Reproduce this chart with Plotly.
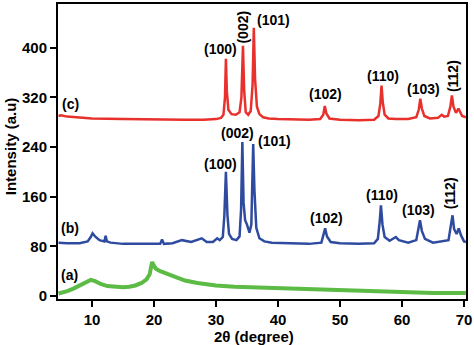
import plotly.graph_objects as go

# XRD patterns: 2-theta (degree) vs intensity (a.u.), offset stacked
two_theta_a = [4.6, 5, 6, 7, 8, 9, 9.8, 10.5, 11.5, 12.5, 14, 15, 16, 17, 18, 18.8, 19.3, 19.7,
               19.9, 20.3, 21, 22, 23, 24, 25, 27, 30, 33, 36, 40, 45, 50, 55, 60, 65, 70.3]
intensity_a = [4, 5, 8, 12, 17, 22, 26, 24, 19, 16, 14, 14, 15, 17, 21, 27, 35, 55,
               50, 44, 40, 36, 32, 28, 25, 21, 17, 15, 14, 13, 11, 9, 7, 6, 5, 5]

two_theta_b = [4.6, 6, 8, 9.3, 9.8, 10.1, 10.5, 11.2, 12, 12.2, 12.4, 13, 15, 18, 21, 21.3, 21.6,
               23, 24.5, 26, 27.7, 28.5, 29.5, 30.2, 30.6, 31.1, 31.35, 31.6, 31.85, 32.1, 32.6,
               33.3, 33.8, 34.05, 34.25, 34.45, 34.7, 35.0, 35.4, 35.7, 35.85, 36.0, 36.2, 36.5,
               37, 37.8, 39, 42, 45, 47, 47.4, 47.6, 47.9, 48.5, 50, 53, 55.5, 56.1, 56.4, 56.6,
               56.85, 57.2, 58, 59, 59.5, 61, 62.3, 62.7, 62.9, 63.2, 63.7, 65, 66.5, 67.5, 67.9,
               68.15, 68.4, 68.8, 69.15, 69.5, 70, 70.3]
intensity_b = [86, 85, 85, 88, 95, 101, 96, 90, 88, 97, 88, 86, 84, 84, 84, 91, 84,
               85, 90, 87, 93, 87, 87, 93, 90, 95, 130, 200, 130, 100, 92,
               90, 96, 140, 248, 150, 122, 115, 102, 115, 170, 245, 170, 110,
               93, 88, 86, 85, 84, 86, 100, 109, 96, 87, 85, 84, 85, 92, 120, 146,
               115, 95, 89, 95, 90, 86, 90, 110, 122, 105, 92, 86, 88, 90, 115,
               130, 108, 100, 109, 98, 88, 87]

two_theta_c = [4.6, 5, 6, 7, 8, 10, 15, 20, 25, 28, 30, 30.8, 31.2, 31.45, 31.6, 31.75, 32.0,
               32.5, 33.2, 33.8, 34.1, 34.35, 34.55, 34.8, 35.2, 35.6, 35.9, 36.1, 36.3, 36.6,
               37.0, 37.6, 38.5, 40, 45, 46.8, 47.3, 47.55, 47.8, 48.3, 50, 53, 55.5, 56.2, 56.5,
               56.7, 56.9, 57.2, 57.8, 59, 61, 62.3, 62.7, 62.95, 63.2, 63.6, 64.5, 65.8, 66.4,
               66.8, 67.4, 67.8, 68.05, 68.3, 68.7, 69.1, 69.4, 69.7, 70.3]
intensity_c = [290, 291, 289, 288, 287, 286, 285, 284, 284, 284, 285, 287, 292, 320, 382, 330, 300,
               293, 292, 296, 320, 403, 330, 296, 292, 298, 340, 432, 350, 305,
               293, 288, 286, 285, 284, 285, 292, 306, 294, 286, 284, 283, 284, 290, 310,
               339, 312, 292, 286, 285, 285, 288, 300, 318, 302, 290, 286, 287, 292,
               289, 290, 305, 323, 305, 295, 302, 296, 290, 288]

series_tags = ["(a)", "(b)", "(c)"]
series_colors = ["#5cbb45", "#2f4ba0", "#e8302c"]

# Miller-index labels: (text, 2theta, intensity, rotated)
hkl_c = [("(100)", 30.8, 398, False), ("(002)", 34.35, 434, True), ("(101)", 39.35, 445, False),
         ("(102)", 47.7, 325, False), ("(110)", 56.9, 355, False), ("(103)", 63.5, 334, False),
         ("(112)", 68.2, 354, True)]
hkl_b = [("(100)", 30.8, 213, False), ("(002)", 33.5, 262, False), ("(101)", 39.5, 250, False),
         ("(102)", 47.9, 125, False), ("(110)", 56.8, 162, False), ("(103)", 62.7, 139, False),
         ("(112)", 67.7, 165, True)]
tag_pos = [(6.45, 34), (6.45, 109), (6.6, 309)]

y_ticks = [0, 80, 160, 240, 320, 400]
x_ticks = [10, 20, 30, 40, 50, 60, 70]

font_family = "Liberation Sans, Arial, sans-serif"

fig = go.Figure()
for xs, ys, col, w in [(two_theta_a, intensity_a, series_colors[0], 4),
                       (two_theta_b, intensity_b, series_colors[1], 2.5),
                       (two_theta_c, intensity_c, series_colors[2], 2.5)]:
    fig.add_trace(go.Scatter(x=xs, y=ys, mode="lines",
                             line=dict(color=col, width=w), showlegend=False,
                             hoverinfo="skip"))

annotations = []
for tag, (tx, ty) in zip(series_tags, tag_pos):
    annotations.append(dict(x=tx, y=ty, text="<b>%s</b>" % tag, showarrow=False,
                            font=dict(size=14, color="black", family=font_family)))
for txt, tx, ty, rot in hkl_c + hkl_b:
    annotations.append(dict(x=tx, y=ty, text="<b>%s</b>" % txt, showarrow=False,
                            textangle=-90 if rot else 0,
                            font=dict(size=14, color="black", family=font_family)))

# axis titles
annotations.append(dict(xref="paper", yref="paper", x=-0.1176, y=0.518,
                        xanchor="center", yanchor="middle",
                        text="<b>Intensity (a.u)</b>", showarrow=False, textangle=-90,
                        font=dict(size=15, color="black", family=font_family)))
annotations.append(dict(xref="paper", yref="paper", x=0.48, y=-0.128,
                        xanchor="center", yanchor="middle",
                        text="<b>2θ (degree)</b>", showarrow=False,
                        font=dict(size=15, color="black", family=font_family)))

axis_common = dict(ticks="outside", ticklen=6, tickwidth=1.5, tickcolor="black",
                   showline=True, linecolor="black", linewidth=2, mirror=True,
                   showgrid=False, zeroline=False,
                   tickfont=dict(size=15, color="black", family=font_family))

fig.update_layout(
    width=474, height=345,
    margin=dict(l=58, r=8, t=2, b=46),
    paper_bgcolor="white", plot_bgcolor="white",
    annotations=annotations,
    xaxis=dict(range=[4.52, 70.32], tickvals=x_ticks,
               ticktext=["<b>%d</b>" % v for v in x_ticks], **axis_common),
    yaxis=dict(range=[-4.8, 470.4], tickvals=y_ticks,
               ticktext=["<b>%d</b>" % v for v in y_ticks], **axis_common),
)

fig.write_html("out.html")
